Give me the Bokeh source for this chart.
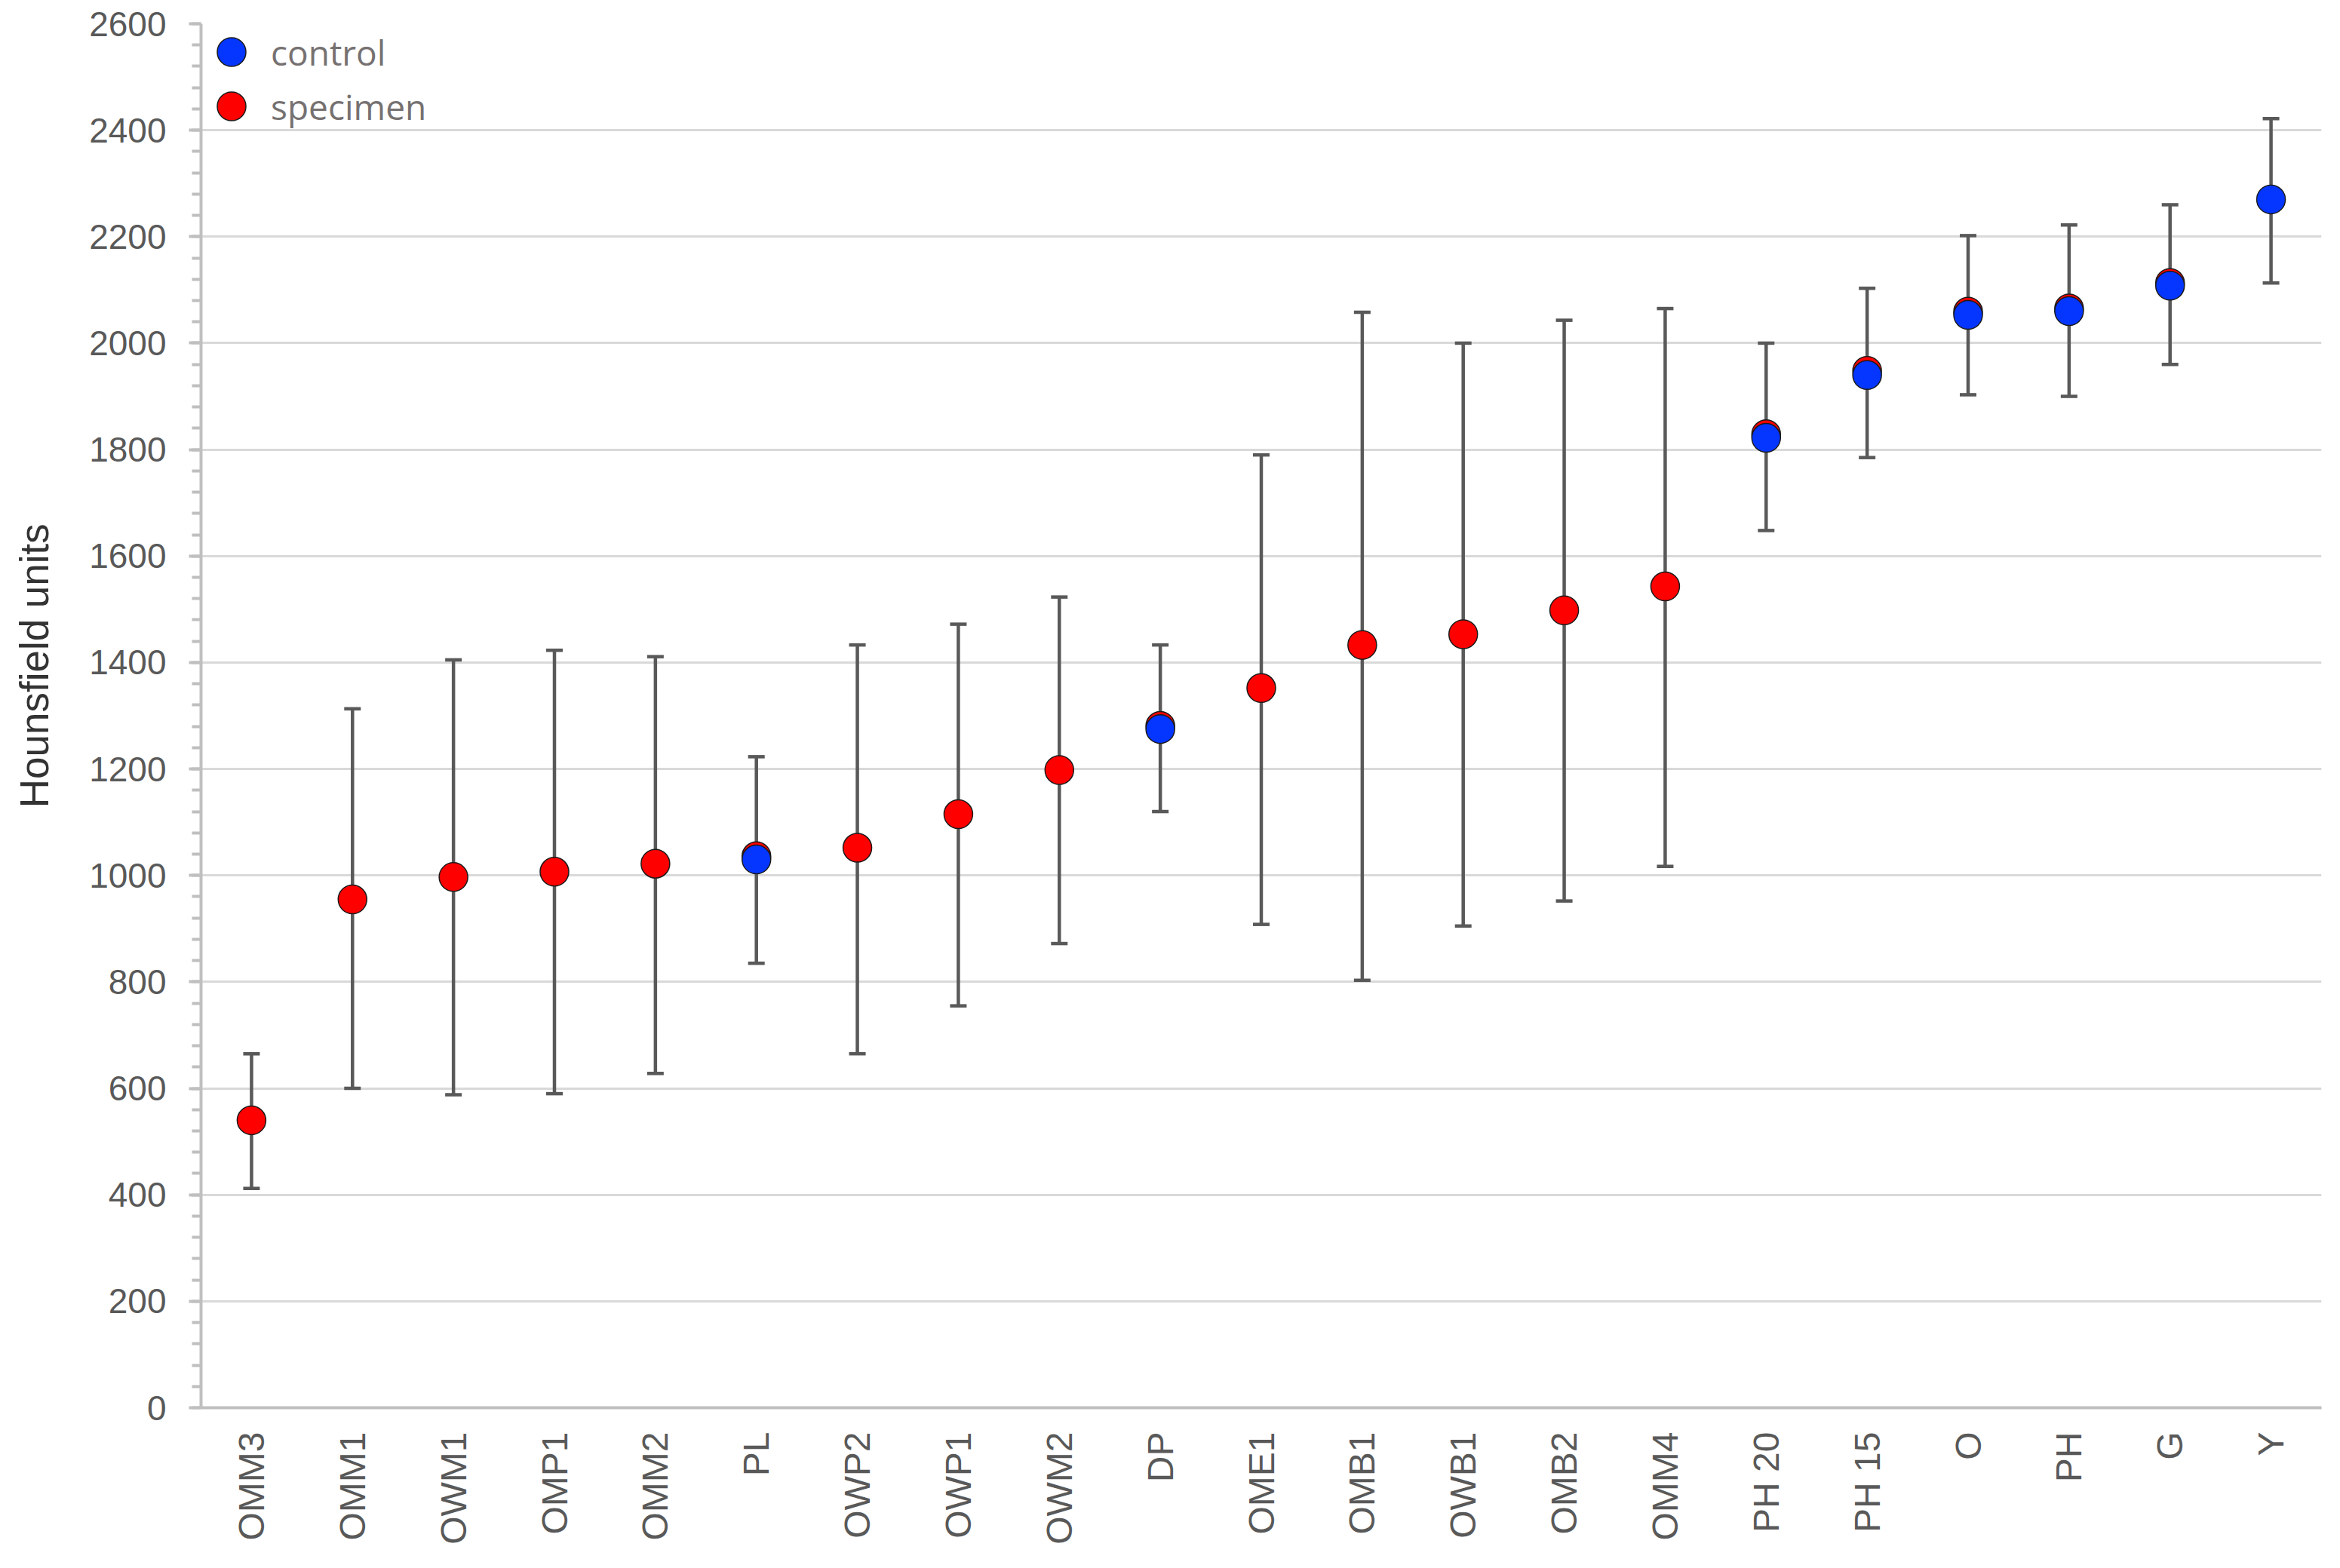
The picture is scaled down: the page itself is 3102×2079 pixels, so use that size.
import math
from bokeh.plotting import figure
from bokeh.models import ColumnDataSource, Legend, LegendItem, FixedTicker, Range1d, FactorRange
from bokeh.embed import file_html
from bokeh.resources import INLINE

categories = ["OMM3", "OMM1", "OWM1", "OMP1", "OMM2", "PL", "OWP2", "OWP1", "OWM2", "DP",
              "OME1", "OMB1", "OWB1", "OMB2", "OMM4", "PH 20", "PH 15", "O", "PH", "G", "Y"]

specimen_cats = ["OMM3", "OMM1", "OWM1", "OMP1", "OMM2", "PL", "OWP2", "OWP1", "OWM2", "DP",
                 "OME1", "OMB1", "OWB1", "OMB2", "OMM4", "PH 20", "PH 15", "O", "PH", "G"]
specimen_vals = [540, 955, 997, 1007, 1022, 1036, 1052, 1115, 1198, 1281,
                 1352, 1433, 1453, 1498, 1543, 1829, 1948, 2059, 2065, 2113]

control_cats = ["PL", "DP", "PH 20", "PH 15", "O", "PH", "G", "Y"]
control_vals = [1030, 1275, 1822, 1940, 2053, 2060, 2108, 2270]

err_upper = [665, 1313, 1405, 1423, 1411, 1223, 1433, 1472, 1523, 1433,
             1790, 2058, 2000, 2043, 2065, 2000, 2103, 2202, 2222, 2260, 2422]
err_lower = [412, 600, 588, 590, 628, 835, 665, 755, 872, 1120,
             908, 803, 905, 952, 1017, 1648, 1785, 1903, 1900, 1960, 2113]

y_ticks = [0, 200, 400, 600, 800, 1000, 1200, 1400, 1600, 1800, 2000, 2200, 2400, 2600]

FRAME_W, FRAME_H = 2811, 1835

p = figure(x_range=FactorRange(*categories, range_padding=0),
           y_range=Range1d(0, 2600),
           frame_width=FRAME_W, frame_height=FRAME_H,
           min_border_left=266, min_border_right=9, min_border_top=31, min_border_bottom=190,
           output_backend="svg", toolbar_location=None, background_fill_color="white")
p.outline_line_color = None

# grid
p.xgrid.grid_line_color = None
p.ygrid.grid_line_color = "#d9d9d9"
p.ygrid.grid_line_width = 3

# y axis
p.yaxis.ticker = FixedTicker(ticks=y_ticks,
                             minor_ticks=[v for v in range(0, 2601, 40)])
p.yaxis.axis_line_color = "#bfbfbf"
p.yaxis.axis_line_width = 4
p.yaxis.major_tick_line_color = "#bfbfbf"
p.yaxis.major_tick_line_width = 4
p.yaxis.major_tick_in = 0
p.yaxis.major_tick_out = 16
p.yaxis.minor_tick_line_color = "#bfbfbf"
p.yaxis.minor_tick_line_width = 4
p.yaxis.minor_tick_in = 0
p.yaxis.minor_tick_out = 12
p.yaxis.major_label_text_font = "Liberation Sans"
p.yaxis.major_label_text_font_size = "46px"
p.yaxis.major_label_text_color = "#595959"
p.yaxis.major_label_standoff = 30
# leading no-break spaces lift the title a little above the frame centre,
# as in the reference
p.yaxis.axis_label = "\u00a0" * 9 + "Hounsfield units"
p.yaxis.axis_label_text_font = "Liberation Sans"
p.yaxis.axis_label_text_font_style = "normal"
p.yaxis.axis_label_text_font_size = "53px"
p.yaxis.axis_label_text_color = "#333333"
p.yaxis.axis_label_standoff = 40

# x axis
p.xaxis.axis_line_color = "#bfbfbf"
p.xaxis.axis_line_width = 4
p.xaxis.major_tick_line_color = None
p.xaxis.major_tick_out = 0
p.xaxis.major_tick_in = 0
p.xaxis.minor_tick_line_color = None
p.xaxis.major_label_orientation = math.pi / 2
p.xaxis.major_label_text_font = "Liberation Sans"
p.xaxis.major_label_text_font_size = "48px"
p.xaxis.major_label_text_color = "#595959"
p.xaxis.major_label_standoff = 32

# error bars
err_src = ColumnDataSource(dict(x=categories, upper=err_upper, lower=err_lower))
p.segment(x0="x", y0="lower", x1="x", y1="upper", source=err_src,
          line_color="#595959", line_width=4.5)
p.scatter(x="x", y="upper", source=err_src, marker="dash", size=22,
          line_color="#595959", line_width=4.5)
p.scatter(x="x", y="lower", source=err_src, marker="dash", size=22,
          line_color="#595959", line_width=4.5)

# points
spec_src = ColumnDataSource(dict(x=specimen_cats, y=specimen_vals))
ctrl_src = ColumnDataSource(dict(x=control_cats, y=control_vals))
rs = p.scatter(x="x", y="y", source=spec_src, marker="circle", size=38,
               fill_color="#ff0000", line_color="#1a1a1a", line_width=1.5)
rc = p.scatter(x="x", y="y", source=ctrl_src, marker="circle", size=38,
               fill_color="#0536ff", line_color="#1a1a1a", line_width=1.5)

legend_style = dict(glyph_width=95, glyph_height=95, padding=0, margin=0,
                    border_line_color=None, background_fill_alpha=0,
                    label_text_font="Open Sans", label_text_font_size="46px",
                    label_text_color="#767171", label_standoff=5)
legend_ctrl = Legend(items=[LegendItem(label="control", renderers=[rc])],
                     location=(-7, FRAME_H - 85), **legend_style)
legend_spec = Legend(items=[LegendItem(label="specimen", renderers=[rs])],
                     location=(-7, FRAME_H - 157), **legend_style)
p.add_layout(legend_ctrl)
p.add_layout(legend_spec)

open("out.html", "w").write(file_html(p, INLINE))
